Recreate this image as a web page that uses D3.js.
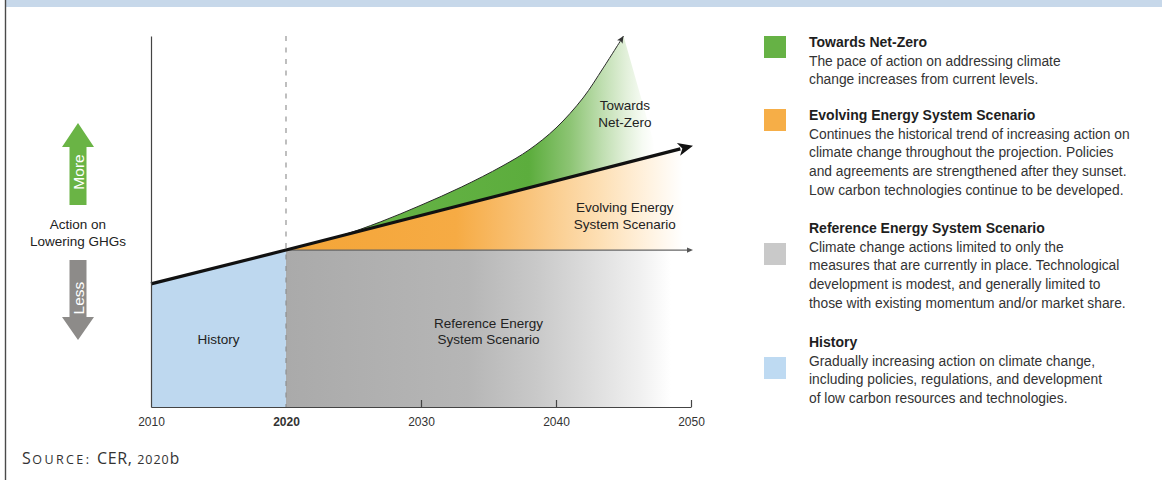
<!DOCTYPE html>
<html>
<head>
<meta charset="utf-8">
<script src="https://cdn.jsdelivr.net/npm/d3@7"></script>
<style>
  html, body { margin: 0; padding: 0; background: #fff; }
  svg { display: block; }
  text { font-family: "Liberation Sans", Arial, Helvetica, sans-serif; }
</style>
</head>
<body>
<svg id="chart" width="1162" height="480"></svg>
<script>
// ---- data ----------------------------------------------------------------
const tickYears = [2010, 2020, 2030, 2040, 2050];
const tickLabels = ["2010", "2020", "2030", "2040", "2050"];

// historical trend of action on lowering GHGs (index, 0-100)
const historyYears = [2010, 2020];
const historyValues = [33.2, 42.3];

// Evolving Energy System Scenario: historical trend continues
const evolvingYears = [2020, 2050];
const evolvingValues = [42.3, 70.3];

// Reference Energy System Scenario: action held at current level
const referenceYears = [2020, 2050];
const referenceValues = [42.3, 42.3];

// Towards Net-Zero: pace of action accelerates
const netZeroYears = [2020, 2024, 2027, 2030, 2033, 2036, 2038, 2040, 2042, 2043.5, 2045];
const netZeroValues = [42.3, 46.1, 49.9, 54.4, 59.3, 64.9, 69.3, 75.2, 83.3, 91.4, 100];

const regionLabels = [
  { lines: ["Towards", "Net-Zero"], year: 2045.1, value: 80 },
  { lines: ["Evolving Energy", "System Scenario"], year: 2045.1, value: 52.5 },
  { lines: ["Reference Energy", "System Scenario"], year: 2035.0, value: 21.3 },
  { lines: ["History"], year: 2015.0, value: 17 }
];

const legendItems = [
  { key: "netzero", color: "#66b245", title: "Towards Net-Zero",
    body: ["The pace of action on addressing climate",
           "change increases from current levels."] },
  { key: "evolving", color: "#f6ae47", title: "Evolving Energy System Scenario",
    body: ["Continues the historical trend of increasing action on",
           "climate change throughout the projection. Policies",
           "and agreements are strengthened after they sunset.",
           "Low carbon technologies continue to be developed."] },
  { key: "reference", color: "#c9c9c9", title: "Reference Energy System Scenario",
    body: ["Climate change actions limited to only the",
           "measures that are currently in place. Technological",
           "development is modest, and generally limited to",
           "those with existing momentum and/or market share."] },
  { key: "history", color: "#bedaf2", title: "History",
    body: ["Gradually increasing action on climate change,",
           "including policies, regulations, and development",
           "of low carbon resources and technologies."] }
];

// ---- layout ---------------------------------------------------------------
const svg = d3.select("#chart");
const x = d3.scaleLinear().domain([2010, 2050]).range([151, 691]);
const y = d3.scaleLinear().domain([0, 100]).range([407, 36]);

// page frame: top band and left rule
svg.append("rect").attr("x", 5).attr("y", 0).attr("width", 1157).attr("height", 7).attr("fill", "#c7d8ea");
svg.append("line").attr("x1", 5.5).attr("x2", 5.5).attr("y1", 0).attr("y2", 480)
  .attr("stroke", "#4a4a4a").attr("stroke-width", 1.4);

const defs = svg.append("defs");
function hGradient(id, stops) {
  const g = defs.append("linearGradient").attr("id", id)
    .attr("gradientUnits", "userSpaceOnUse")
    .attr("x1", x(2020)).attr("x2", x(2050)).attr("y1", 0).attr("y2", 0);
  stops.forEach(([o, c]) => g.append("stop").attr("offset", o).attr("stop-color", c));
}
hGradient("gradRef", [[0, "#aaaaaa"], [0.45, "#b6b6b6"], [0.62, "#c9c9c9"], [0.76, "#dedede"], [0.88, "#f1f1f1"], [0.95, "#ffffff"]]);
hGradient("gradEvo", [[0, "#f4a537"], [0.42, "#f6ab44"], [0.6, "#f9c47c"], [0.78, "#fde0b6"], [0.9, "#fff3e2"], [0.98, "#ffffff"]]);
hGradient("gradNZ", [[0, "#6cb64a"], [0.3, "#64b244"], [0.6, "#5cad3d"], [0.7, "#8cc473"], [0.78, "#bfdeb0"], [0.84, "#e2f0da"], [0.88, "#f6fbf3"], [0.91, "#ffffff"]]);

const history = historyYears.map((d, i) => [d, historyValues[i]]);
const evolving = evolvingYears.map((d, i) => [d, evolvingValues[i]]);
const reference = referenceYears.map((d, i) => [d, referenceValues[i]]);
const netZero = netZeroYears.map((d, i) => [d, netZeroValues[i]]);
const evoAt = d3.scaleLinear().domain(evolvingYears).range(evolvingValues);

const plot = svg.append("g");

// Reference scenario: grey band below the current level
plot.append("path")
  .datum(reference)
  .attr("d", d3.area().x(d => x(d[0])).y0(y(0)).y1(d => y(d[1])))
  .attr("fill", "url(#gradRef)");

// Evolving scenario: between current level and trend line
plot.append("path")
  .datum(evolving)
  .attr("d", d3.area().x(d => x(d[0])).y0(d => y(referenceValues[0])).y1(d => y(d[1])))
  .attr("fill", "url(#gradEvo)");

// Towards Net-Zero: accelerating curve, closed diagonally down onto the trend line
const nzCurve = d3.line().curve(d3.curveCatmullRom.alpha(0.5)).x(d => x(d[0])).y(d => y(d[1]));
const lastYear = netZeroYears[netZeroYears.length - 1];
const closeYear = lastYear + 2.5;
const evoBack = [[closeYear, evoAt(closeYear)], evolving[0]]
  .map(d => `L${x(d[0])},${y(d[1])}`).join("");
plot.append("path")
  .attr("d", nzCurve(netZero) + evoBack + "Z")
  .attr("fill", "url(#gradNZ)");

// History
plot.append("path")
  .datum(history)
  .attr("d", d3.area().x(d => x(d[0])).y0(y(0)).y1(d => y(d[1])))
  .attr("fill", "#bed8ef");

// 2020 divider
plot.append("line")
  .attr("x1", x(2020)).attr("x2", x(2020)).attr("y1", y(100)).attr("y2", y(0))
  .attr("stroke", "#8a8a8a").attr("stroke-width", 1.1).attr("stroke-dasharray", "5,6.5");

// arrowheads
const mk = (id, path, color, vb) => defs.append("marker").attr("id", id)
  .attr("viewBox", vb).attr("markerUnits", "userSpaceOnUse")
  .attr("markerWidth", 20).attr("markerHeight", 20)
  .attr("refX", 0).attr("refY", 0).attr("orient", "auto")
  .append("path").attr("d", path).attr("fill", color);
mk("arrSmall", "M0,0L-7,-3.2L-5.5,0L-7,3.2Z", "#333", "-10 -10 20 20");
mk("arrRef", "M2,0L-4,-2.6L-4,2.6Z", "#555", "-10 -10 20 20");

// Reference level line
plot.append("path")
  .datum(reference)
  .attr("d", d3.line().x(d => x(d[0])).y(d => y(d[1])))
  .attr("fill", "none").attr("stroke", "#666").attr("stroke-width", 1.2)
  .attr("marker-end", "url(#arrRef)");

// Net-Zero curve
plot.append("path")
  .datum(netZero)
  .attr("d", nzCurve)
  .attr("fill", "none").attr("stroke", "#2a2a2a").attr("stroke-width", 1)
  .attr("marker-end", "url(#arrSmall)");

// Main trend line (history + evolving), ending in a bold arrow
const trend = history.concat(evolving.slice(1));
const pts = trend.map(d => [x(d[0]), y(d[1])]);
const tip = pts[pts.length - 1];
const prev = pts[pts.length - 2];
const ang = Math.atan2(tip[1] - prev[1], tip[0] - prev[0]);
const headLen = 15;
const shaftEnd = [tip[0] - (headLen - 4) * Math.cos(ang), tip[1] - (headLen - 4) * Math.sin(ang)];
plot.append("path")
  .attr("d", d3.line()(pts.slice(0, -1).concat([shaftEnd])))
  .attr("fill", "none").attr("stroke", "#111").attr("stroke-width", 3.2)
  .attr("stroke-linejoin", "round");
plot.append("path")
  .attr("d", "M0,0L-15,-6.5L-11,0L-15,6.5Z")
  .attr("transform", `translate(${tip[0] + 2},${tip[1] - 0.5}) rotate(${ang * 180 / Math.PI})`)
  .attr("fill", "#111");

// axes
svg.append("g")
  .attr("transform", `translate(${x(2010)},0)`)
  .call(d3.axisLeft(y).tickValues([]).tickSizeOuter(0))
  .call(g => g.select(".domain").attr("stroke", "#444").attr("stroke-width", 1.2));

const xAxis = svg.append("g")
  .attr("transform", `translate(0,${y(0)})`)
  .call(d3.axisBottom(x).tickValues(tickYears).tickFormat((d, i) => tickLabels[i])
    .tickSizeInner(-7).tickSizeOuter(0).tickPadding(10.5));
xAxis.select(".domain").attr("stroke", "#444").attr("stroke-width", 1.2);
xAxis.selectAll(".tick line").attr("stroke", "#444").attr("stroke-width", 1.2)
  .filter(d => d === 2010 || d === 2020).remove();
xAxis.selectAll(".tick text")
  .attr("fill", "#333").style("font-size", "12px")
  .style("font-family", "'Liberation Sans', Arial, sans-serif")
  .style("font-weight", d => d === 2020 ? "bold" : "normal");

// region labels
regionLabels.forEach(l => {
  const t = svg.append("text")
    .attr("x", x(l.year)).attr("y", y(l.value))
    .attr("text-anchor", "middle").attr("fill", "#222").style("font-size", "13.5px");
  l.lines.forEach((s, i) => t.append("tspan").attr("x", x(l.year)).attr("dy", i ? 16.5 : 0).text(s));
});

// y-axis meaning: More / Less arrows
const ax = 78;
svg.append("path")
  .attr("d", `M${ax},123L${ax + 16},147L${ax + 8.5},147L${ax + 8.5},205L${ax - 8.5},205L${ax - 8.5},147L${ax - 16},147Z`)
  .attr("fill", "#6ab445");
svg.append("path")
  .attr("d", `M${ax},340L${ax + 16},317L${ax + 8.5},317L${ax + 8.5},260L${ax - 8.5},260L${ax - 8.5},317L${ax - 16},317Z`)
  .attr("fill", "#8d8b89");
svg.append("text").attr("transform", `translate(${ax + 5.5},172) rotate(-90)`)
  .attr("text-anchor", "middle").attr("fill", "#fff").style("font-size", "15.5px").text("More");
svg.append("text").attr("transform", `translate(${ax + 5.5},298) rotate(-90)`)
  .attr("text-anchor", "middle").attr("fill", "#fff").style("font-size", "15.5px").text("Less");
const act = svg.append("text").attr("text-anchor", "middle").attr("fill", "#222").style("font-size", "13.5px");
act.append("tspan").attr("x", ax).attr("y", 229).text("Action on");
act.append("tspan").attr("x", ax).attr("y", 245.5).text("Lowering GHGs");

// legend
const legendTop = [47, 120, 233, 347];
const squareTop = [36, 109, 243, 357];
legendItems.forEach((d, i) => {
  const g = svg.append("g");
  g.append("rect").attr("x", 764).attr("y", squareTop[i]).attr("width", 22).attr("height", 22).attr("fill", d.color);
  g.append("text").attr("x", 809).attr("y", legendTop[i]).attr("fill", "#1e1e1e")
    .style("font-size", "14px").style("font-weight", "bold").text(d.title);
  const body = g.append("text").attr("fill", "#333").style("font-size", "13.8px");
  d.body.forEach((s, j) => body.append("tspan").attr("x", 809).attr("y", legendTop[i] + 18.7 * (j + 1)).text(s));
});

// source note, set in small capitals
const src = svg.append("text").attr("x", 22).attr("y", 464)
  .attr("fill", "#333")
  .style("font-family", "'Open Sans', 'Noto Sans', sans-serif");
src.append("tspan").style("font-size", "16px").style("letter-spacing", "1.5px").text("S");
src.append("tspan").style("font-size", "12.5px").style("letter-spacing", "2.4px").text("OURCE: ");
src.append("tspan").style("font-size", "16px").style("letter-spacing", "0.6px").text("CER, ");
src.append("tspan").style("font-size", "12.5px").style("letter-spacing", "1px").text("2020");
src.append("tspan").style("font-size", "15.5px").text("b");
</script>
</body>
</html>
